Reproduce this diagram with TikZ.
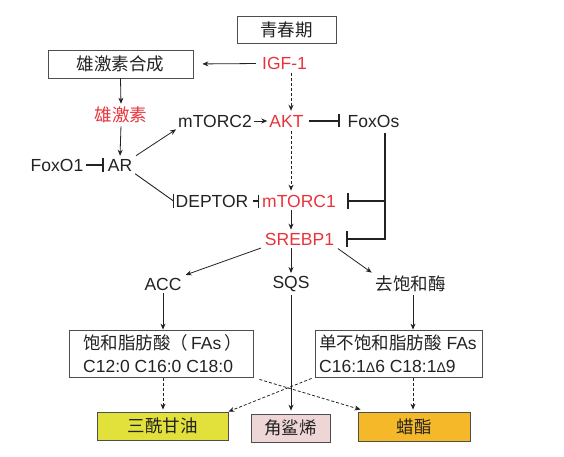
\documentclass[tikz,border=0pt]{standalone}
\usepackage{fontspec}
\setmainfont{Liberation Sans}
\newfontfamily\cjk{Noto Sans CJK SC}
\usetikzlibrary{arrows.meta,calc}
\definecolor{myred}{HTML}{E8333B}
\definecolor{tgfill}{HTML}{E2E03A}
\definecolor{jsfill}{HTML}{EFD6D6}
\definecolor{lzfill}{HTML}{F5B829}
\definecolor{ink}{HTML}{222222}
\begin{document}
\begin{tikzpicture}[x=1pt,y=-1pt,
  every node/.style={font=\fontsize{17.5}{19}\selectfont, text=ink, inner sep=2pt},
  rlbl/.style={text=myred},
  box/.style={draw=ink!80, line width=0.8pt, fill=white, inner sep=0pt},
  arr/.style={draw=ink, line width=0.8pt, -{Stealth[length=6pt,width=5pt]}},
  darr/.style={arr, dashed, dash pattern=on 3pt off 2pt},
  inh/.style={draw=ink, line width=1.3pt, -{Bar[width=13pt,line width=1.3pt]}},
  inhb/.style={draw=ink, line width=1.8pt, -{Bar[width=16pt,line width=1.8pt]}},
]
\useasboundingbox (0,0) rectangle (564,457);
\coordinate (spine) at (291,0);
\coordinate (bx) at (385,0);

% nodes
\node[box, minimum width=99pt, minimum height=27pt] (qcq) at (286.5,29.5) {\cjk 青春期};
\node[box, minimum width=145pt, minimum height=28pt] (hs) at (120.5,64) {\cjk 雄激素合成};
\node[rlbl] (igf) at (284.5,63.5) {IGF-1};
\node[rlbl] (hsu) at (121,115) {\cjk 雄激素};
\node (ar) at (120,165) {AR};
\node (foxo1) at (57,165) {FoxO1};
\node (mtorc2) at (215,121) {mTORC2};
\node[rlbl] (akt) at (286.5,121) {AKT};
\node (foxos) at (373.5,121) {FoxOs};
\node (deptor) at (212,201) {DEPTOR};
\node[rlbl] (mtorc1) at (299,201) {mTORC1};
\node[rlbl] (srebp1) at (299.5,239) {SREBP1};
\node (acc) at (163,284) {ACC};
\node (sqs) at (291,284) {SQS};
\node (qbh) at (410.5,284) {\cjk 去饱和酶};

\node[box, minimum width=184pt, minimum height=47pt] (b1) at (161,353.5) {};
\node[anchor=west, inner sep=0pt] (b1a) at (83,343) {{\cjk 饱和脂肪酸（}\,FAs\,{\cjk ）}};
\node[anchor=west, inner sep=0pt] (b1b) at (83,366) {C12:0 C16:0 C18:0};
\node[box, minimum width=167pt, minimum height=47pt] (b2) at (398.5,353.5) {};
\node[anchor=west, inner sep=0pt] (b2a) at (319,343) {{\cjk 单不饱和脂肪酸} FAs};
\node[anchor=west, inner sep=0pt] (b2b) at (319,366) {C16:1{\fontsize{14}{16}\selectfont Δ}6 C18:1{\fontsize{14}{16}\selectfont Δ}9};

\node[box, fill=tgfill, minimum width=131pt, minimum height=28pt] (tg) at (162.5,426) {\cjk 三酰甘油};
\node[box, fill=jsfill, minimum width=79pt, minimum height=28pt] (js) at (290.5,428) {\cjk 角鲨烯};
\node[box, fill=lzfill, minimum width=112pt, minimum height=29pt] (lz) at (414,426.5) {\cjk 蜡酯};

% connectors
\draw[arr, shorten <=4pt, shorten >=9pt] (igf.west) -- (hs.east);
\draw[arr, shorten >=1pt] (hs.south) -- (hsu.north);
\draw[arr, shorten <=1pt, shorten >=1pt] (hsu.south) -- (ar.north);
\draw[darr, shorten <=1pt, shorten >=2pt] (igf.south -| spine) -- (akt.north -| spine);
\draw[inh, shorten <=1pt, shorten >=2pt] (foxo1.east) -- (ar.west);
\draw[arr, shorten <=2pt] (ar.north east) -- (mtorc2.south west);
\draw[arr] (mtorc2.east) -- (akt.west);
\draw[inh, shorten <=3pt, shorten >=6pt] (akt.east) -- (foxos.west);
\draw[draw=ink, line width=0.9pt, shorten <=1pt] (ar.south east) -- (deptor.west);
\draw[draw=ink, line width=1pt] ($(deptor.west)+(0,-7)$) -- ($(deptor.west)+(0,7)$);
\draw[inh, shorten <=2pt, shorten >=1pt] (deptor.east) -- (mtorc1.west);
\draw[darr, shorten <=2pt, shorten >=2pt] (akt.south -| spine) -- (mtorc1.north -| spine);
\draw[arr, shorten <=1pt, shorten >=1pt] (mtorc1.south -| spine) -- (srebp1.north -| spine);
\draw[draw=ink, line width=1.8pt, shorten <=4pt, shorten >=-0.9pt] (foxos.south -| bx) -- (srebp1 -| bx);
\draw[inhb, shorten >=9pt] (mtorc1 -| bx) -- (mtorc1.east);
\draw[inhb, shorten >=10pt] (srebp1 -| bx) -- (srebp1.east);
\draw[arr, shorten <=2pt, shorten >=2pt] (srebp1.south west) -- (acc.north east);
\draw[arr, shorten <=1pt, shorten >=1pt] (srebp1.south -| spine) -- (sqs.north);
\draw[arr, shorten <=2pt, shorten >=2pt] (srebp1.south east) -- (qbh.north west);
\draw[arr, shorten <=1pt] (acc.south) -- (b1.north -| acc);
\draw[arr, shorten <=1pt] ($(qbh.south)+(2.5,0)$) -- ($(b2.north -| qbh)+(2.5,0)$);
\draw[arr, shorten <=1pt, shorten >=3pt] (sqs.south) -- (js.north -| spine);
\draw[darr, shorten <=1pt, shorten >=2pt] (b1.south -| acc) -- (tg.north -| acc);
\draw[darr, shorten <=1pt, shorten >=2pt] ($(b2.south -| qbh)+(2.5,0)$) -- ($(lz.north -| qbh)+(2.5,0)$);
\draw[darr] ($(b1.south east)+(6,2)$) -- ($(lz.north west)+(3,-2)$);
\draw[darr] ($(b2.south west)+(-3,1)$) -- (tg.north east);
\end{tikzpicture}
\end{document}
